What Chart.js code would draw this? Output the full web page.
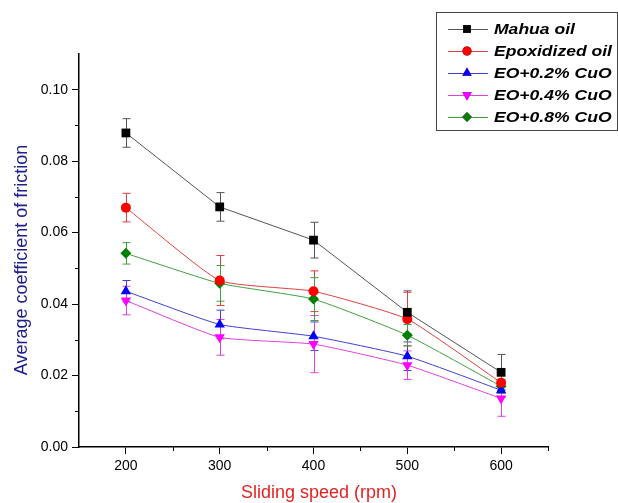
<!DOCTYPE html>
<html><head><meta charset="utf-8">
<script src="https://cdn.jsdelivr.net/npm/chart.js@4.4.1/dist/chart.umd.min.js"></script>
<style>html,body{margin:0;padding:0;background:#fff}#wrap{width:618px;height:503px;position:relative}</style>
</head><body><div id="wrap"><canvas id="c" width="618" height="503"></canvas></div>
<script>
// ---- data ----
const speeds = [200, 300, 400, 500, 600];
const xTicks = [200, 300, 400, 500, 600];
const yTicks = [0, 0.02, 0.04, 0.06, 0.08, 0.10];
const seriesNames = ['Mahua oil', 'Epoxidized oil', 'EO+0.2% CuO', 'EO+0.4% CuO', 'EO+0.8% CuO'];
const mahua     = [0.0879, 0.0672, 0.0579, 0.0377, 0.0209];
const mahuaErr  = [0.004, 0.004, 0.005, 0.006, 0.005];
const epox      = [0.0670, 0.0466, 0.0436, 0.0358, 0.0180];
const epoxErr   = [0.004, 0.007, 0.0057, 0.0075, 0.002];
const cuo02     = [0.0436, 0.0343, 0.0310, 0.0254, 0.0159];
const cuo02Err  = [0.003, 0.004, 0.004, 0.004, 0.002];
const cuo04     = [0.0410, 0.0307, 0.0288, 0.0229, 0.0136];
const cuo04Err  = [0.004, 0.005, 0.008, 0.004, 0.005];
const cuo08     = [0.0542, 0.0458, 0.0414, 0.0313, 0.0170];
const cuo08Err  = [0.003, 0.005, 0.006, 0.003, 0.002];

const seriesValues = [mahua, epox, cuo02, cuo04, cuo08];
const seriesErrors = [mahuaErr, epoxErr, cuo02Err, cuo04Err, cuo08Err];
const colors = ['#000000', '#ff0000', '#0000ff', '#ff00ff', '#008000'];
const lineColors = ['#555555', '#e04040', '#4040d0', '#e040e0', '#40a040'];
const styles = ['rect', 'circle', 'triangle', 'triangle', 'rectRot'];
const rotations = [0, 0, 0, 180, 0];
const radii = [6.2, 5, 6, 6, 5.5];
const tensions = [0, 0.15, 0.15, 0.15, 0.15];

const datasets = seriesValues.map((vals, i) => ({
  label: seriesNames[i],
  data: vals.map((v, j) => ({x: speeds[j], y: v})),
  errors: seriesErrors[i],
  borderColor: lineColors[i],
  backgroundColor: colors[i],
  pointBackgroundColor: colors[i],
  pointBorderColor: colors[i],
  pointBorderWidth: 0,
  pointStyle: styles[i],
  pointRotation: rotations[i],
  pointRadius: radii[i],
  borderWidth: 1,
  tension: tensions[i],
  fill: false
}));

const errorBars = {
  id: 'errorBars',
  beforeDatasetsDraw(chart) {
    const ctx = chart.ctx, xs = chart.scales.x, ys = chart.scales.y;
    ctx.save();
    chart.data.datasets.forEach((ds, i) => {
      ctx.strokeStyle = lineColors[i];
      ctx.lineWidth = 1;
      ds.data.forEach((p, j) => {
        const e = ds.errors[j];
        const x = Math.round(xs.getPixelForValue(p.x)) + 0.5;
        const y1 = ys.getPixelForValue(p.y + e), y2 = ys.getPixelForValue(p.y - e);
        ctx.beginPath();
        ctx.moveTo(x, y1); ctx.lineTo(x, y2);
        ctx.moveTo(x - 4, y1); ctx.lineTo(x + 4, y1);
        ctx.moveTo(x - 4, y2); ctx.lineTo(x + 4, y2);
        ctx.stroke();
      });
    });
    ctx.restore();
  }
};

const extras = {
  id: 'extras',
  afterDraw(chart) {
    const ctx = chart.ctx, xs = chart.scales.x, ys = chart.scales.y;
    const ca = chart.chartArea;
    ctx.save();
    // minor ticks
    ctx.strokeStyle = '#000'; ctx.lineWidth = 1;
    ctx.beginPath();
    [250, 350, 450, 550, 650].forEach(v => {
      const x = Math.round(xs.getPixelForValue(v)) + 0.5;
      ctx.moveTo(x, ca.bottom); ctx.lineTo(x, ca.bottom + 4);
    });
    [0.01, 0.03, 0.05, 0.07, 0.09].forEach(v => {
      const y = Math.round(ys.getPixelForValue(v)) + 0.5;
      ctx.moveTo(ca.left, y); ctx.lineTo(ca.left - 4, y);
    });
    ctx.stroke();
    // axis titles
    ctx.font = '18px "Liberation Sans", Arial, sans-serif';
    ctx.textAlign = 'center'; ctx.textBaseline = 'middle';
    ctx.fillStyle = '#e32222';
    ctx.fillText('Sliding speed (rpm)', 319, 493);
    ctx.save();
    ctx.translate(22, 260);
    ctx.rotate(-Math.PI / 2);
    ctx.fillStyle = '#20208c';
    ctx.fillText('Average coefficient of friction', 0, 0);
    ctx.restore();
    // legend
    const bx = 436.5, by = 12.5, bw = 181, bh = 118;
    ctx.fillStyle = '#fff';
    ctx.fillRect(bx, by, bw, bh);
    ctx.strokeStyle = '#444'; ctx.lineWidth = 1;
    ctx.strokeRect(bx, by, bw, bh);
    const rows = [29, 51, 73, 95, 117];
    chart.data.datasets.forEach((ds, i) => {
      const y = rows[i];
      ctx.strokeStyle = lineColors[i]; ctx.lineWidth = 1;
      ctx.beginPath(); ctx.moveTo(448, y + 0.5); ctx.lineTo(488, y + 0.5); ctx.stroke();
      Chart.helpers.drawPoint(ctx, {pointStyle: styles[i], radius: radii[i] * 0.9, rotation: rotations[i], borderWidth: 0}, 467, y);
      ctx.fillStyle = colors[i];
      ctx.fill();
      ctx.save();
      ctx.translate(494, y + 1);
      ctx.scale(1.17, 1);
      ctx.font = 'italic bold 15px "Liberation Sans", Arial, sans-serif';
      ctx.textAlign = 'left';
      ctx.fillStyle = '#000';
      ctx.fillText(seriesNames[i], 0, 0);
      ctx.restore();
    });
    ctx.restore();
  }
};

new Chart(document.getElementById('c'), {
  type: 'line',
  data: {datasets},
  options: {
    responsive: false,
    animation: false,
    devicePixelRatio: 1,
    layout: {padding: {top: 54, right: 70, left: 0, bottom: 0}},
    plugins: {legend: {display: false}, tooltip: {enabled: false}},
    scales: {
      x: {
        type: 'linear', min: 150, max: 650,
        afterBuildTicks: s => { s.ticks = xTicks.map(v => ({value: v})); },
        afterFit: s => { s.height = 56; },
        grid: {drawOnChartArea: false, drawTicks: true, tickLength: 7, color: '#000', tickWidth: 1},
        border: {color: '#000', width: 1.5},
        ticks: {color: '#000', font: {size: 14, family: '"Liberation Sans", Arial, sans-serif'}, padding: 4, maxRotation: 0}
      },
      y: {
        type: 'linear', min: 0, max: 0.11,
        afterBuildTicks: s => { s.ticks = yTicks.map(v => ({value: v})); },
        afterFit: s => { s.width = 79; },
        grid: {drawOnChartArea: false, drawTicks: true, tickLength: 7, color: '#000', tickWidth: 1},
        border: {color: '#000', width: 1.5},
        ticks: {color: '#000', font: {size: 14, family: '"Liberation Sans", Arial, sans-serif'}, padding: 4,
          callback: v => Number(v).toFixed(2)}
      }
    }
  },
  plugins: [errorBars, extras]
});
</script></body></html>
